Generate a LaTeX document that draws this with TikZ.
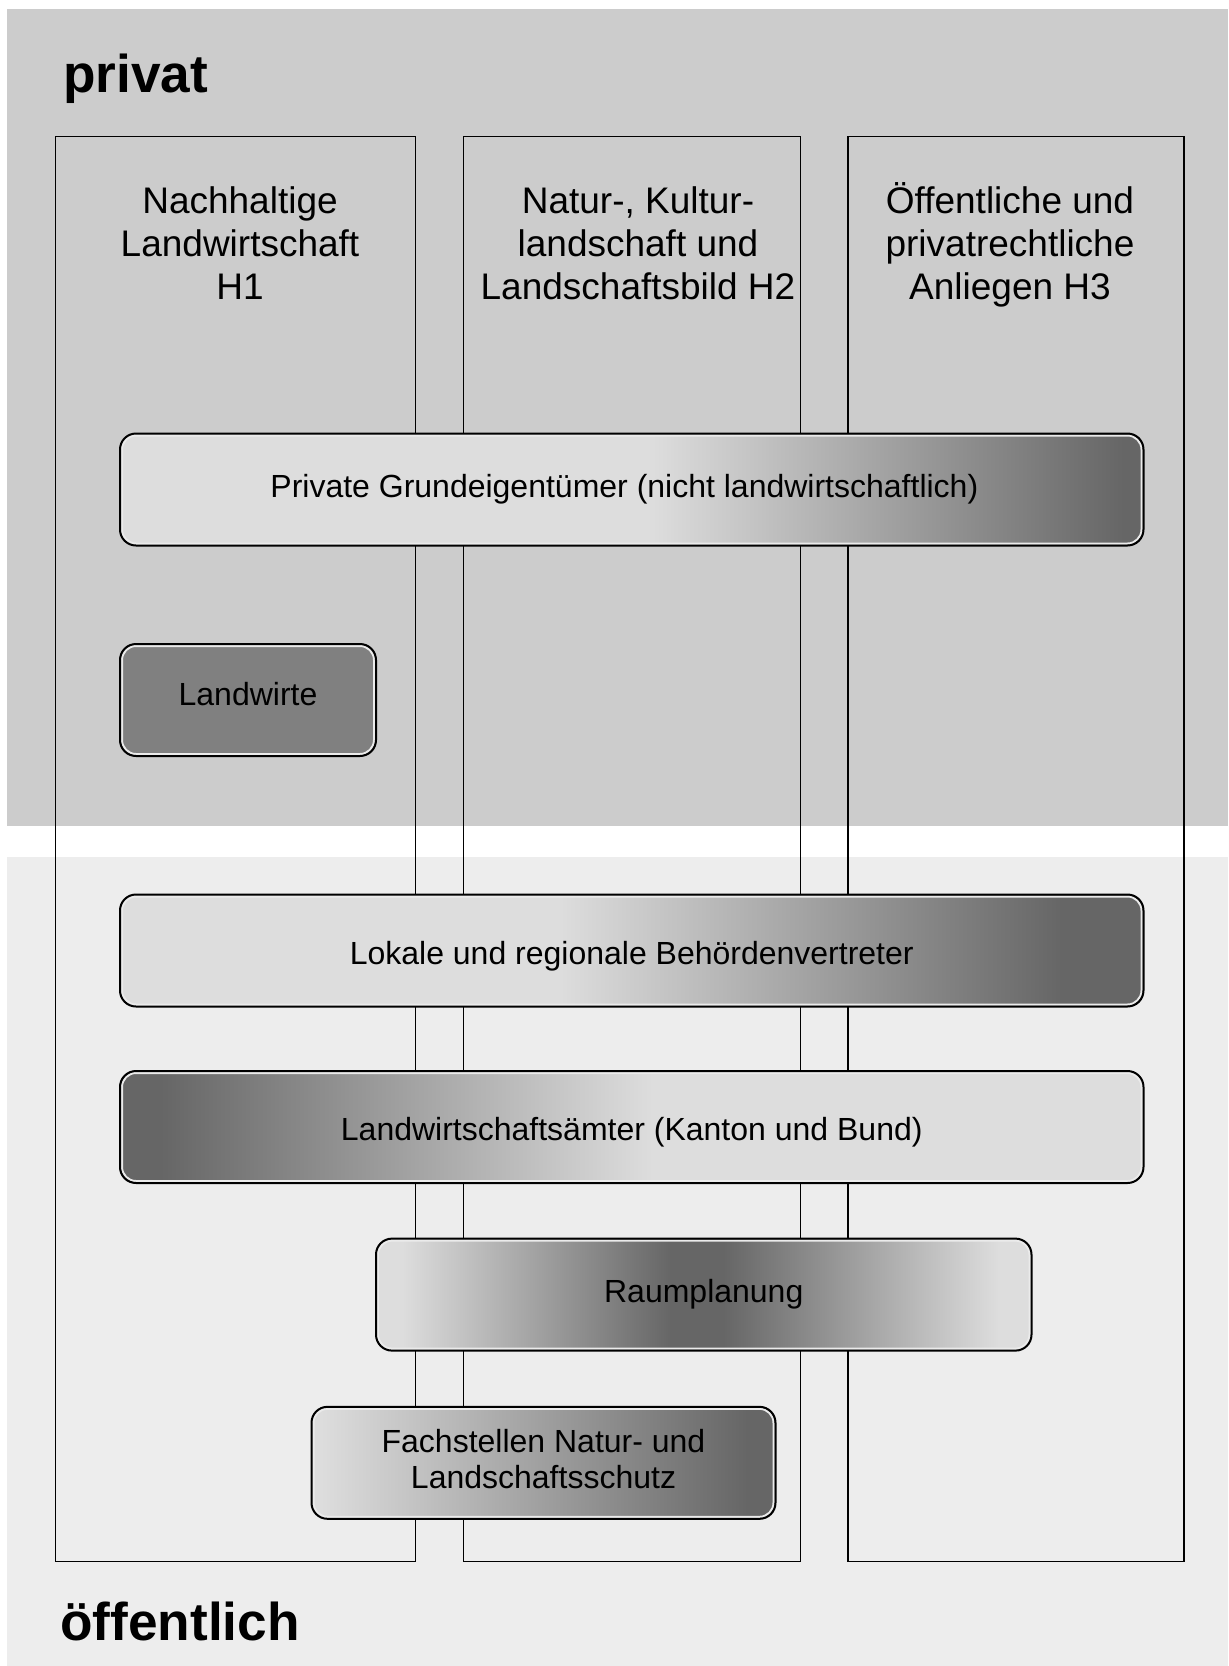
\documentclass[tikz,border=0pt]{standalone}
\usepackage{fontspec}
\setmainfont{Liberation Sans}
\definecolor{hell}{HTML}{DDDDDD}
\definecolor{dunkel}{HTML}{666666}
\definecolor{mittel}{HTML}{808080}
\definecolor{bandoben}{HTML}{CCCCCC}
\definecolor{bandunten}{HTML}{EDEDED}
\definecolor{rand}{HTML}{EBEBEB}
\pgfdeclarehorizontalshading{shPriv}{100bp}{color(0bp)=(hell); color(51bp)=(hell); color(74bp)=(dunkel); color(100bp)=(dunkel)}
\pgfdeclarehorizontalshading{shLokal}{100bp}{color(0bp)=(hell); color(46.5bp)=(hell); color(71bp)=(dunkel); color(100bp)=(dunkel)}
\pgfdeclarehorizontalshading{shAmt}{100bp}{color(0bp)=(dunkel); color(27bp)=(dunkel); color(51bp)=(hell); color(100bp)=(hell)}
\pgfdeclarehorizontalshading{shRaum}{100bp}{color(0bp)=(hell); color(27bp)=(hell); color(47.5bp)=(dunkel); color(51.5bp)=(dunkel); color(72.5bp)=(hell); color(100bp)=(hell)}
\pgfdeclarehorizontalshading{shFach}{100bp}{color(0bp)=(hell); color(26bp)=(hell); color(72bp)=(dunkel); color(100bp)=(dunkel)}

\begin{document}
\begin{tikzpicture}[x=0.5pt,y=-0.5pt,
	spalte/.style={draw,line width=0.6pt,minimum height=712.5pt,inner sep=0pt},
	titel/.style={align=center,inner sep=0pt,font=\fontsize{18.5}{21.5}\selectfont},
	band/.style={anchor=base west,inner sep=0pt,font=\fontsize{26.6}{30}\selectfont\bfseries},
	box/.style={draw,line width=1pt,rounded corners=8pt,minimum height=56pt,inner sep=0pt,
		align=center,font=\fontsize{16}{18}\selectfont,
		path picture={\draw[rand,line width=1pt,rounded corners=7pt]
			([shift={(1pt,1pt)}]path picture bounding box.south west) rectangle
			([shift={(-1pt,-1pt)}]path picture bounding box.north east);}},
	verlauf/.style={shading=#1,shade}]
\useasboundingbox (0,0) rectangle (1228,1666);
\fill[bandoben] (7,8.5) rectangle (1228,825.5);
\fill[bandunten] (7,856.5) rectangle (1228,1666);
\node[band] (privat) at (63,92) {privat};
\node[band] (oeff) at (60,1640) {öffentlich};
\node[spalte,minimum width=180.1pt] (h1) at (235.7,849.2) {};
\node[spalte,minimum width=168.35pt] (h2) at (632,849.2) {};
\node[spalte,minimum width=168pt] (h3) at (1016,849.2) {};
\node[titel] (t1) at (240,243) {Nachhaltige\\Landwirtschaft\\H1};
\node[titel] (t2) at (638,243) {Natur-, Kultur-\\landschaft und\\Landschaftsbild H2};
\node[titel] (t3) at (1010,245) {Öffentliche und\\privatrechtliche\\Anliegen H3};
\node[box,verlauf=shPriv,minimum width=511.75pt] (priv) at (631.75,489.5) {Private Grundeigentümer (nicht landwirtschaftlich)\hspace*{7.4pt}};
\node[box,fill=mittel,minimum width=128pt,text height=11.5pt,text depth=6pt] (bauern) at (248,700) {Landwirte};
\node[box,verlauf=shLokal,minimum width=511.75pt,text height=17.7pt,text depth=3.4pt] (lokal) at (631.75,950.5) {Lokale und regionale Behördenvertreter};
\node[box,verlauf=shAmt,minimum width=511.75pt,text height=16.7pt,text depth=3.4pt] (amt) at (631.75,1127) {Landwirtschaftsämter (Kanton und Bund)};
\node[box,verlauf=shRaum,minimum width=327.75pt] (raum) at (703.75,1294.6) {Raumplanung};
\node[box,verlauf=shFach,minimum width=232pt,text depth=3.8pt] (fach) at (543.5,1462.8) {Fachstellen Natur- und\\Landschaftsschutz};
\end{tikzpicture}
\end{document}
